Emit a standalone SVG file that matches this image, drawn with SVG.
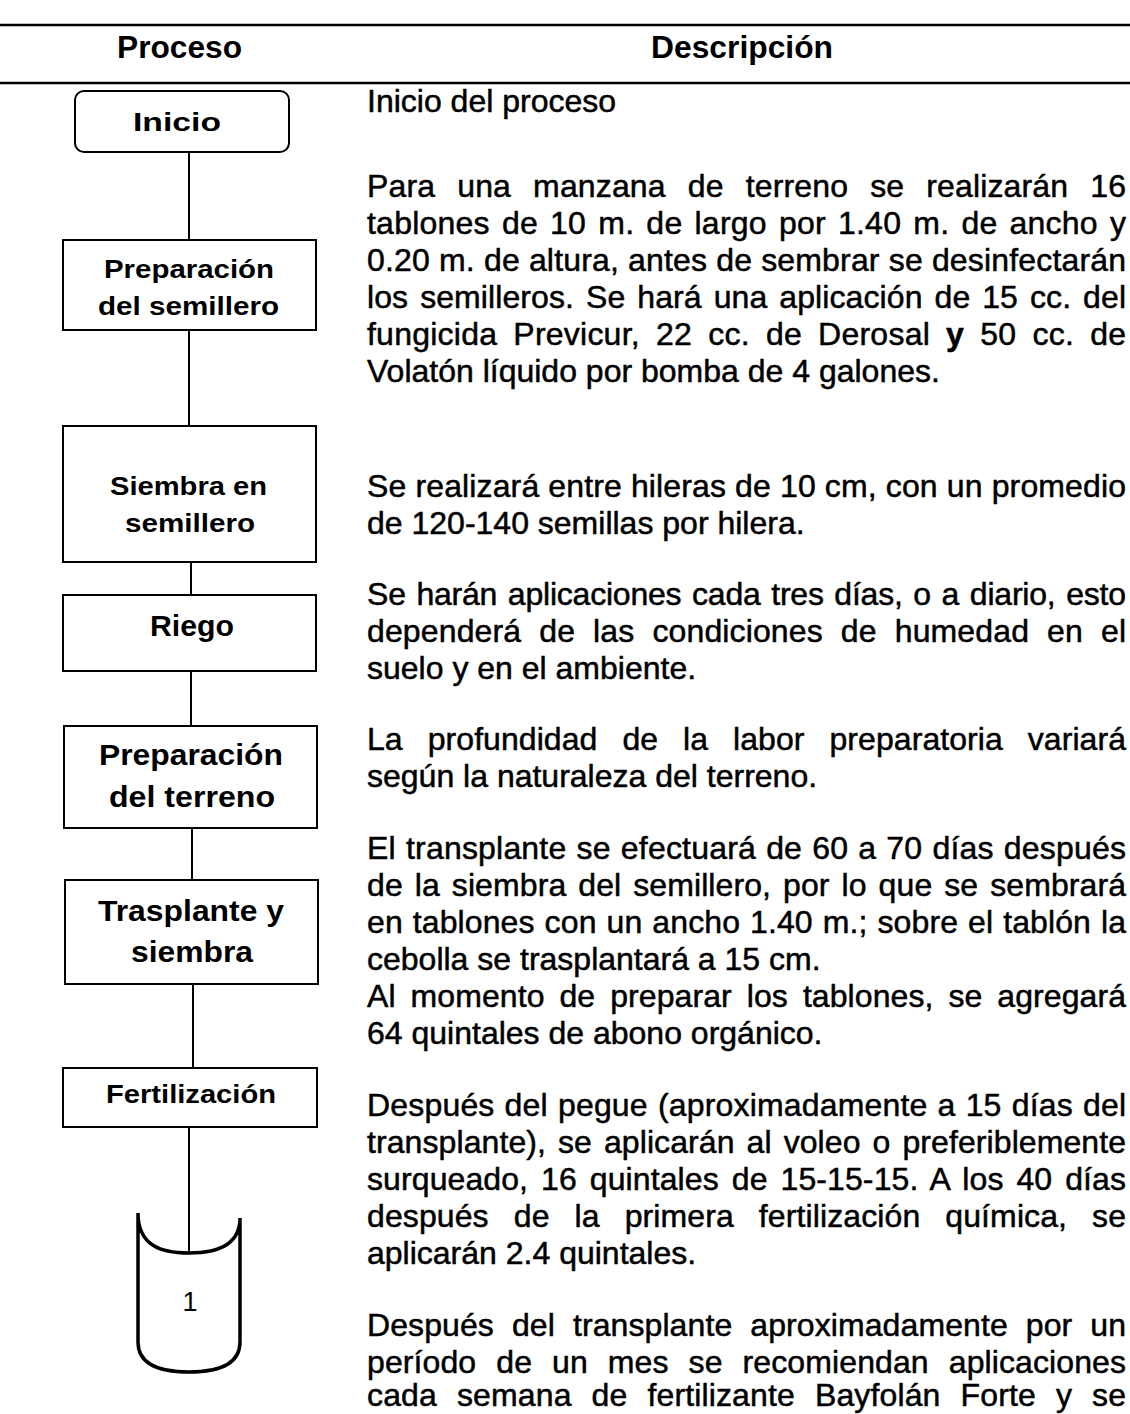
<svg xmlns="http://www.w3.org/2000/svg" width="1130" height="1414" viewBox="0 0 1130 1414">
<style>
.rule{stroke:#000;stroke-width:2.5}
.box{fill:#fff;stroke:#000;stroke-width:2}
.conn{stroke:#000;stroke-width:2;fill:none}
.hd{font-family:"Liberation Sans",Arial,sans-serif;font-weight:bold;font-size:31px;fill:#000}
.nl{font-family:"Liberation Sans",Arial,sans-serif;font-weight:bold;fill:#000}
.d{font-family:"Liberation Sans",Arial,sans-serif;font-size:32px;fill:#000;stroke:#000;stroke-width:0.5}
</style>
<rect width="1130" height="1414" fill="#fff"/>
<line class="rule" x1="0" y1="25" x2="1130" y2="25"/>
<line class="rule" x1="0" y1="83" x2="1130" y2="83"/>
<text class="hd" x="117" y="58" textLength="125" lengthAdjust="spacingAndGlyphs">Proceso</text>
<text class="hd" x="651" y="58" textLength="182" lengthAdjust="spacingAndGlyphs">Descripción</text>

<g id="connectors">
<line class="conn" x1="189" y1="152" x2="189" y2="240"/>
<line class="conn" x1="189" y1="330" x2="189" y2="426"/>
<line class="conn" x1="191" y1="562" x2="191" y2="595"/>
<line class="conn" x1="191" y1="671" x2="191" y2="726"/>
<line class="conn" x1="192" y1="828" x2="192" y2="880"/>
<line class="conn" x1="193" y1="984" x2="193" y2="1068"/>
<line class="conn" x1="189" y1="1127" x2="189" y2="1253"/>
</g>

<g id="n-inicio">
<rect class="box" x="75" y="91" width="214" height="61" rx="9"/>
<text class="nl" x="133" y="131" font-size="26" textLength="88" lengthAdjust="spacingAndGlyphs">Inicio</text>
</g>
<g id="n-prep-semillero">
<rect class="box" x="63" y="240" width="253" height="90"/>
<text class="nl" x="104" y="278" font-size="25" textLength="170" lengthAdjust="spacingAndGlyphs">Preparación</text>
<text class="nl" x="98" y="315" font-size="25" textLength="181" lengthAdjust="spacingAndGlyphs">del semillero</text>
</g>
<g id="n-siembra-semillero">
<rect class="box" x="63" y="426" width="253" height="136"/>
<text class="nl" x="110" y="495" font-size="25" textLength="157" lengthAdjust="spacingAndGlyphs">Siembra en</text>
<text class="nl" x="125" y="532" font-size="25" textLength="130" lengthAdjust="spacingAndGlyphs">semillero</text>
</g>
<g id="n-riego">
<rect class="box" x="63" y="595" width="253" height="76"/>
<text class="nl" x="150" y="636" font-size="29" textLength="84" lengthAdjust="spacingAndGlyphs">Riego</text>
</g>
<g id="n-prep-terreno">
<rect class="box" x="64" y="726" width="253" height="102"/>
<text class="nl" x="99" y="765" font-size="29" textLength="184" lengthAdjust="spacingAndGlyphs">Preparación</text>
<text class="nl" x="109" y="807" font-size="29" textLength="166" lengthAdjust="spacingAndGlyphs">del terreno</text>
</g>
<g id="n-trasplante">
<rect class="box" x="65" y="880" width="253" height="104"/>
<text class="nl" x="98" y="921" font-size="29" textLength="186" lengthAdjust="spacingAndGlyphs">Trasplante y</text>
<text class="nl" x="131" y="962" font-size="29" textLength="122" lengthAdjust="spacingAndGlyphs">siembra</text>
</g>
<g id="n-fertilizacion">
<rect class="box" x="63" y="1068" width="254" height="59"/>
<text class="nl" x="106" y="1103" font-size="26" textLength="170" lengthAdjust="spacingAndGlyphs">Fertilización</text>
</g>
<g id="n-conector-1">
<path d="M138,1213 C138,1245 160,1253 189,1253 C218,1253 240,1245 240,1218 M138,1213 V1342 C138,1365 160,1372 189,1372 C218,1372 240,1365 240,1342 V1218" fill="none" stroke="#000" stroke-width="3.5"/>
<text x="190" y="1311" font-family="Liberation Sans, Arial, sans-serif" font-size="27" text-anchor="middle">1</text>
</g>

<g id="descripciones">
<text class="d" x="367" y="112">Inicio del proceso</text>

<text class="d" x="367" y="197" textLength="759" lengthAdjust="spacing" style="word-spacing:13px">Para una manzana de terreno se realizarán 16</text>
<text class="d" x="367" y="234" textLength="759" lengthAdjust="spacing" style="word-spacing:3px">tablones de 10 m. de largo por 1.40 m. de ancho y</text>
<text class="d" x="367" y="271" textLength="759" lengthAdjust="spacing">0.20 m. de altura, antes de sembrar se desinfectarán</text>
<text class="d" x="367" y="308" textLength="759" lengthAdjust="spacing" style="word-spacing:3px">los semilleros. Se hará una aplicación de 15 cc. del</text>
<text class="d" x="367" y="345" textLength="759" lengthAdjust="spacing" style="word-spacing:7px">fungicida Previcur, 22 cc. de  Derosal <tspan font-weight="bold">y</tspan> 50 cc. de</text>
<text class="d" x="367" y="382">Volatón líquido por bomba de 4 galones.</text>

<text class="d" x="367" y="497" textLength="759" lengthAdjust="spacing">Se realizará entre hileras de 10 cm, con un promedio</text>
<text class="d" x="367" y="534">de 120-140 semillas por hilera.</text>

<text class="d" x="367" y="605" textLength="759" lengthAdjust="spacing" style="word-spacing:2px">Se harán aplicaciones cada tres días, o a diario, esto</text>
<text class="d" x="367" y="642" textLength="759" lengthAdjust="spacing" style="word-spacing:9px">dependerá de las condiciones de humedad en el</text>
<text class="d" x="367" y="679">suelo y en el ambiente.</text>

<text class="d" x="367" y="750" textLength="759" lengthAdjust="spacing" style="word-spacing:16px">La profundidad de la labor preparatoria variará</text>
<text class="d" x="367" y="787">según la naturaleza del terreno.</text>

<text class="d" x="367" y="859" textLength="759" lengthAdjust="spacing" style="word-spacing:1px">El transplante se efectuará de 60 a 70 días después</text>
<text class="d" x="367" y="896" textLength="759" lengthAdjust="spacing" style="word-spacing:3px">de la siembra del semillero, por lo que se sembrará</text>
<text class="d" x="367" y="933" textLength="759" lengthAdjust="spacing" style="word-spacing:1px">en tablones con un ancho 1.40 m.; sobre el tablón la</text>
<text class="d" x="367" y="970">cebolla se trasplantará a 15 cm.</text>
<text class="d" x="367" y="1007" textLength="759" lengthAdjust="spacing" style="word-spacing:6px">Al momento de preparar los tablones, se agregará</text>
<text class="d" x="367" y="1044">64 quintales de abono orgánico.</text>

<text class="d" x="367" y="1116" textLength="759" lengthAdjust="spacing" style="word-spacing:1px">Después del pegue (aproximadamente a 15 días del</text>
<text class="d" x="367" y="1153" textLength="759" lengthAdjust="spacing" style="word-spacing:3px">transplante), se aplicarán al voleo o preferiblemente</text>
<text class="d" x="367" y="1190" textLength="759" lengthAdjust="spacing" style="word-spacing:4px">surqueado, 16 quintales de 15-15-15. A los 40 días</text>
<text class="d" x="367" y="1227" textLength="759" lengthAdjust="spacing" style="word-spacing:16px">después de la primera fertilización química, se</text>
<text class="d" x="367" y="1264">aplicarán 2.4 quintales.</text>

<text class="d" x="367" y="1336" textLength="759" lengthAdjust="spacing" style="word-spacing:9px">Después del transplante aproximadamente por un</text>
<text class="d" x="367" y="1373" textLength="759" lengthAdjust="spacing" style="word-spacing:11px">período de un mes se recomiendan aplicaciones</text>
<text class="d" x="367" y="1406" textLength="759" lengthAdjust="spacing" style="word-spacing:11px">cada semana de fertilizante Bayfolán Forte y  se</text>
</g>
</svg>
